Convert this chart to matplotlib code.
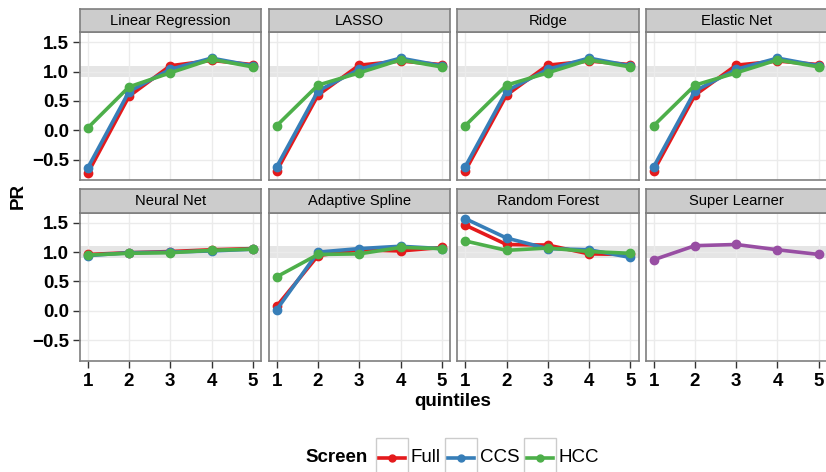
import matplotlib
matplotlib.use("Agg")
import matplotlib.pyplot as plt
from matplotlib.patches import Rectangle

plt.rcParams['font.family'] = ['Liberation Sans', 'DejaVu Sans']

# data
models = ["Linear Regression", "LASSO", "Ridge", "Elastic Net",
          "Neural Net", "Adaptive Spline", "Random Forest", "Super Learner"]
quintiles = [1, 2, 3, 4, 5]
screens = ["Full", "CCS", "HCC"]

full_pr = [
    [-0.73, 0.58, 1.10, 1.19, 1.12],
    [-0.69, 0.60, 1.11, 1.18, 1.12],
    [-0.69, 0.60, 1.11, 1.18, 1.12],
    [-0.69, 0.60, 1.11, 1.18, 1.12],
    [0.96, 0.99, 1.01, 1.04, 1.06],
    [0.08, 0.94, 1.04, 1.02, 1.08],
    [1.46, 1.13, 1.12, 0.97, 0.96],
]
ccs_pr = [
    [-0.64, 0.66, 1.04, 1.23, 1.10],
    [-0.62, 0.67, 1.04, 1.23, 1.10],
    [-0.62, 0.67, 1.04, 1.23, 1.10],
    [-0.62, 0.67, 1.04, 1.23, 1.10],
    [0.94, 0.99, 1.00, 1.02, 1.05],
    [0.02, 1.00, 1.06, 1.10, 1.06],
    [1.57, 1.24, 1.06, 1.04, 0.91],
]
hcc_pr = [
    [0.04, 0.74, 0.98, 1.21, 1.08],
    [0.08, 0.77, 0.98, 1.20, 1.08],
    [0.08, 0.77, 0.98, 1.20, 1.08],
    [0.08, 0.77, 0.98, 1.20, 1.08],
    [0.95, 0.98, 0.99, 1.03, 1.05],
    [0.58, 0.96, 0.97, 1.08, 1.06],
    [1.19, 1.03, 1.07, 1.01, 0.98],
]
super_learner_pr = [0.87, 1.11, 1.13, 1.04, 0.96]

yticks = [-0.5, 0.0, 0.5, 1.0, 1.5]
colors = {"Full": "#E41A1C", "CCS": "#377EB8", "HCC": "#4DAF4A"}
sl_color = "#984EA3"

W, H = 826, 472
fig = plt.figure(figsize=(W / 100, H / 100), dpi=100)


def px_axes(x0, y0, w, h):
    # pixel box (top-left origin) -> figure axes
    return fig.add_axes([x0 / W, 1 - (y0 + h) / H, w / W, h / H])


col_left = [79.5, 268.5, 457.0, 645.5]
panel_w = 181.5
row_top = [32.0, 212.5]
panel_h = 148.5
strip_h = 23.5
border = "#7F7F7F"
tick_fs = 13.5

for i, name in enumerate(models):
    r, c = divmod(i, 4)
    ax = px_axes(col_left[c], row_top[r], panel_w, panel_h)
    ax.set_xlim(0.8, 5.2)
    ax.set_ylim(-0.855, 1.675)
    ax.axhspan(0.9, 1.1, color="#E5E5E5", lw=0, zorder=0.5)
    ax.set_xticks(quintiles)
    ax.set_yticks(yticks)
    ax.grid(True, color="#EBEBEB", lw=1.0, zorder=0)
    ax.set_axisbelow(True)
    for sp in ax.spines.values():
        sp.set_color(border)
        sp.set_linewidth(1.2)
    ax.tick_params(length=5, width=1.0, color="#333333", labelsize=tick_fs,
                   pad=2.5)
    ax.tick_params(axis="x", pad=4)
    if c == 0:
        ax.set_yticklabels([f"{v:.1f}".replace("-", "\u2212") for v in yticks],
                           fontweight="bold")
    else:
        ax.tick_params(axis="y", left=False, labelleft=False)
    if r == 1:
        ax.set_xticklabels([str(q) for q in quintiles], fontweight="bold")
    else:
        ax.tick_params(axis="x", bottom=False, labelbottom=False)

    if name == "Super Learner":
        ax.plot(quintiles, super_learner_pr, "-o", color=sl_color, lw=2.6,
                ms=6, zorder=3)
    else:
        for s, data in zip(screens, [full_pr, ccs_pr, hcc_pr]):
            ax.plot(quintiles, data[i], "-o", color=colors[s], lw=2.6,
                    ms=6, zorder=3)

    st = px_axes(col_left[c], row_top[r] - strip_h, panel_w, strip_h)
    st.set_facecolor("#CCCCCC")
    st.set_xticks([])
    st.set_yticks([])
    for sp in st.spines.values():
        sp.set_color(border)
        sp.set_linewidth(1.2)
    st.text(0.5, 0.47, name, ha="center", va="center", fontsize=10.6,
            transform=st.transAxes)

fig.text(18 / W, 1 - 196 / H, "PR", rotation=90, ha="center", va="center",
         fontsize=13.5, fontweight="bold")
fig.text(453 / W, 1 - 401 / H, "quintiles", ha="center", va="center",
         fontsize=13.5, fontweight="bold")

# legend drawn in a pixel-unit axes at the bottom
lg = px_axes(300, 436, 320, 36)
lg.set_xlim(300, 620)
lg.set_ylim(472, 436)
lg.axis("off")
lg.text(337, 458, "Screen", ha="center", va="center", fontsize=13.5,
        fontweight="bold")
key_x = [376, 445, 524]
text_x = [411, 480, 559]
for s, kx, tx in zip(screens, key_x, text_x):
    lg.add_patch(Rectangle((kx, 438), 32, 40, fill=False, ec="#CCCCCC",
                           lw=1.0, clip_on=False))
    lg.plot([kx + 3, kx + 29], [458, 458], "-", color=colors[s], lw=2.6,
            clip_on=False)
    lg.plot([kx + 16], [458], "o", color=colors[s], ms=5, clip_on=False)
    lg.text(tx, 458, s, ha="left", va="center", fontsize=13.5)

fig.savefig("out.png", dpi=100)
